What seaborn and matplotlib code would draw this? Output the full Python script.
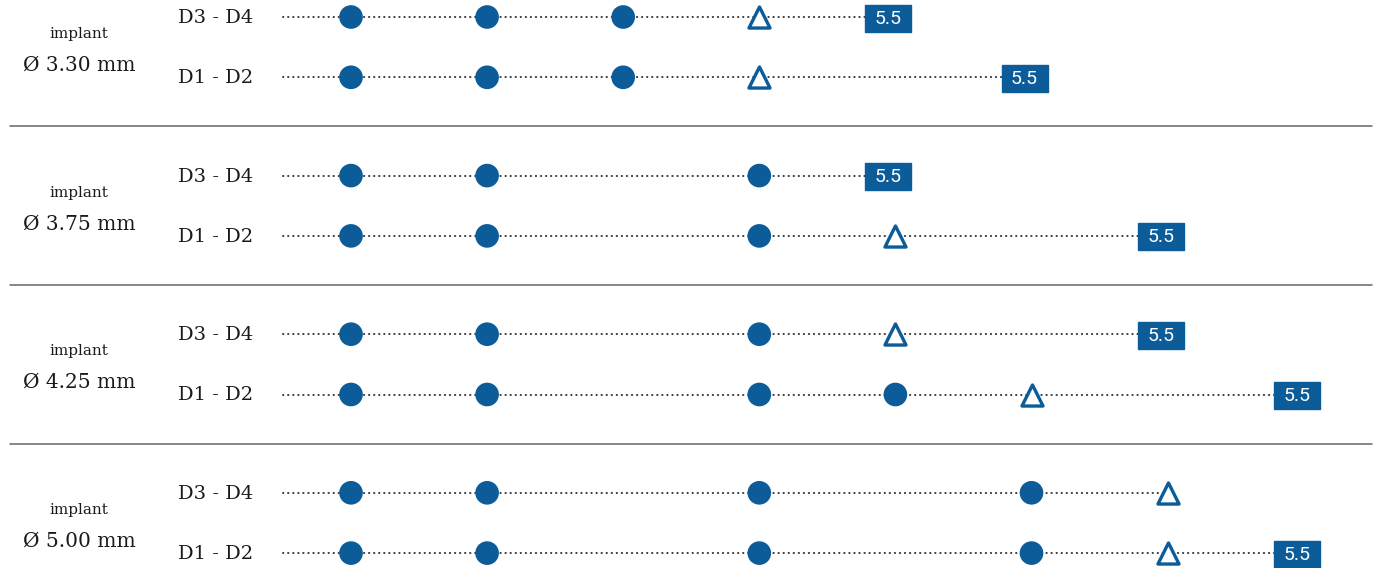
import numpy as np
import matplotlib.pyplot as plt
import pandas as pd
import seaborn as sns
from matplotlib.patches import Rectangle

# data: one entry per row, top to bottom (implant group x bone class)
implants = ["Ø 3.30 mm", "Ø 3.75 mm", "Ø 4.25 mm", "Ø 5.00 mm"]
bones = ["D3 - D4", "D1 - D2"]
dots = [[0, 1, 2], [0, 1, 2],
        [0, 1, 3], [0, 1, 3],
        [0, 1, 3], [0, 1, 3, 4],
        [0, 1, 3, 5], [0, 1, 3, 5]]
triangles = [3, 3, None, 4, 4, 5, 6, 6]
boxes = [4, 5, 4, 6, 6, 7, None, 7]
box_text = "5.5"

blue = "#0b5c99"
sns.set_theme(style="white")
plt.rcParams["font.family"] = ["DejaVu Serif"]

# layout helpers (pixel based)
def px(xp):
    return (xp - 351) / 136.1

def row_y(g, s):
    return 17 + 158.6 * g + 60.3 * s

rows = []
for k in range(len(dots)):
    g, s = divmod(k, 2)
    rows.append(dict(group=g, sub=s, y=row_y(g, s)))

pts = pd.DataFrame([dict(x=c, y=rows[k]["y"]) for k in range(len(dots)) for c in dots[k]])
tri = pd.DataFrame([dict(x=t, y=rows[k]["y"]) for k, t in enumerate(triangles) if t is not None])

fig = plt.figure(figsize=(13.75, 5.68), dpi=100)
ax = fig.add_axes([0, 0, 1, 1])
ax.set_xlim(px(0), px(1375))
ax.set_ylim(568, 0)
ax.axis("off")

# dotted guide lines
for k, r in enumerate(rows):
    end = boxes[k] - 0.22 if boxes[k] is not None else triangles[k]
    ax.plot([px(283), end], [r["y"], r["y"]], color="#333333", lw=1.4,
            linestyle=(0, (0.2, 2.4)), dash_capstyle="round", zorder=1)

sns.scatterplot(data=pts, x="x", y="y", s=290, color=blue, edgecolor="none",
                marker="o", ax=ax, zorder=3, legend=False)
sns.scatterplot(data=tri, x="x", y="y", s=230, marker="^", facecolor="white",
                edgecolor=blue, linewidth=2.4, ax=ax, zorder=3, legend=False)
ax.set_xlabel("")
ax.set_ylabel("")

# end boxes
for k, b in enumerate(boxes):
    if b is None:
        continue
    y = rows[k]["y"]
    ax.add_patch(Rectangle((b - 0.22, y - 12.5), 0.338, 27, color=blue, zorder=4))
    ax.text(b - 0.051, y + 1.5, box_text, color="white", fontsize=14,
            family="Roboto", ha="center", va="center", zorder=5)

# row labels
for k, r in enumerate(rows):
    ax.text(px(178), r["y"] + 1, bones[r["sub"]], fontsize=14, ha="left",
            va="center", color="#1a1a1a")

# group labels and separators
for g, name in enumerate(implants):
    mid = (row_y(g, 0) + row_y(g, 1)) / 2
    ax.text(px(79), mid - 13, "implant", fontsize=11, ha="center", va="center",
            color="#1a1a1a")
    ax.text(px(79), mid + 18, name, fontsize=14.5, ha="center", va="center",
            color="#1a1a1a")
    if g < len(implants) - 1:
        ys = row_y(g, 1) + 49
        ax.plot([px(10), px(1372)], [ys, ys], color="#666666", lw=1.1, zorder=1)

fig.savefig("out.png", dpi=100)
